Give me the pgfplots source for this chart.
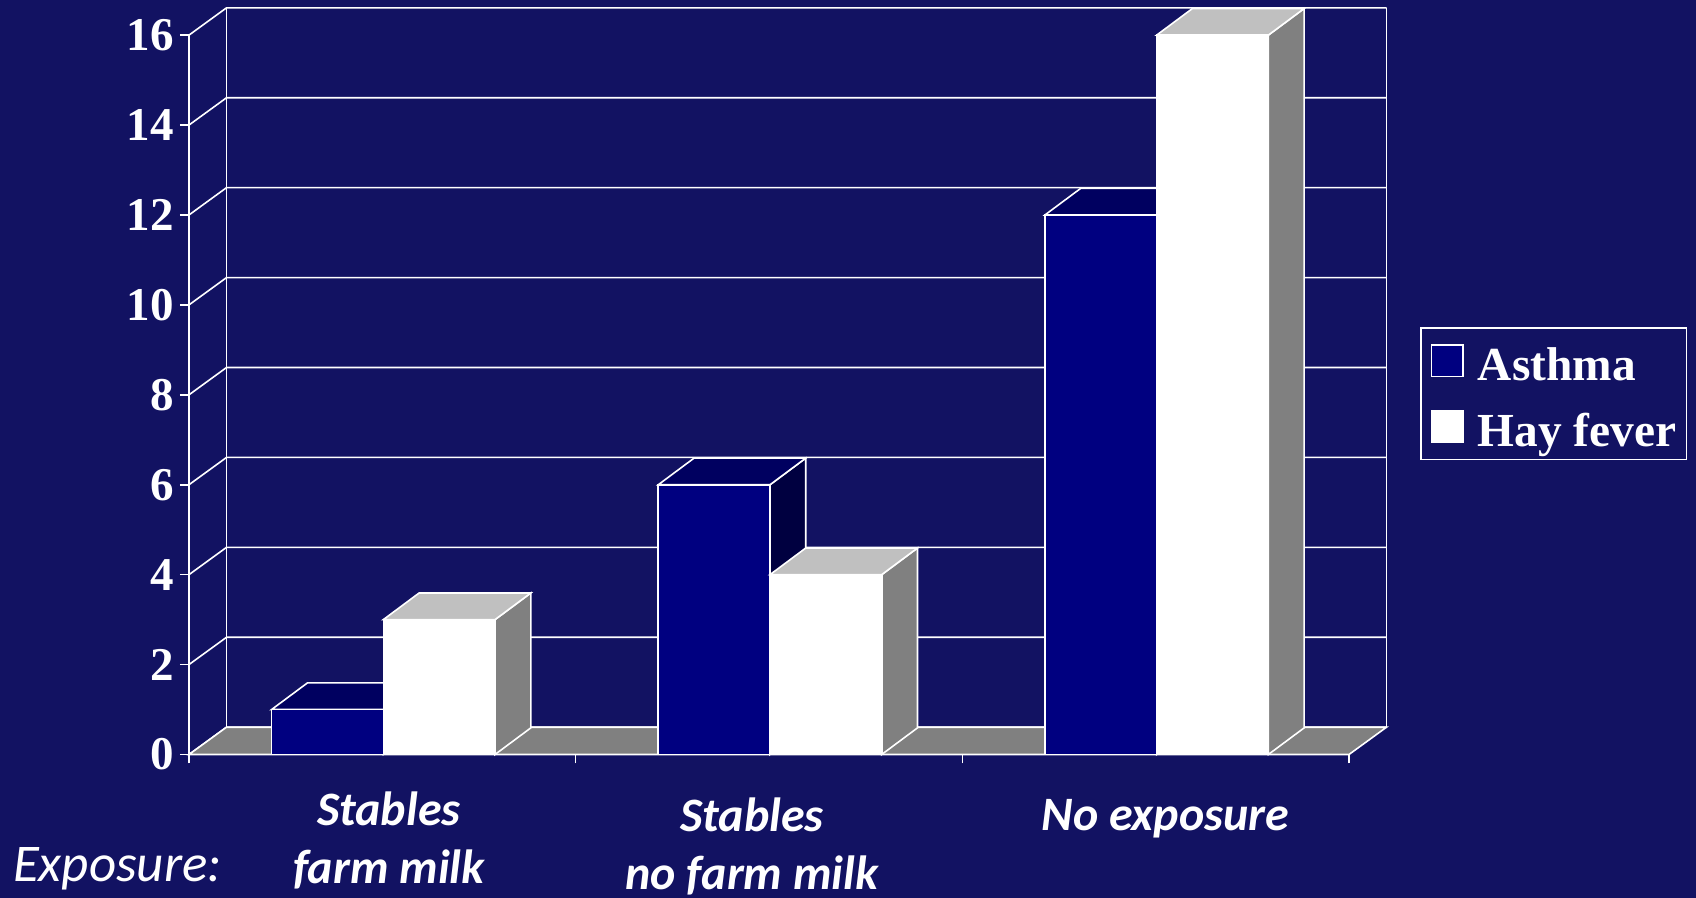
\documentclass[border=0pt]{standalone}
\usepackage{pgfplots}
\usepackage{pgfplotstable}
\pgfplotsset{compat=1.18}
\usepackage{fontspec}
\setmainfont{Liberation Serif}
\newfontfamily\carlito{Carlito}

\definecolor{bgblue}{RGB}{18,18,98}
\definecolor{asthmafront}{RGB}{0,0,128}
\definecolor{asthmatop}{RGB}{0,0,96}
\definecolor{asthmaside}{RGB}{0,0,64}
\definecolor{haytop}{RGB}{192,192,192}
\definecolor{hayside}{RGB}{128,128,128}
\definecolor{floorgray}{RGB}{128,128,128}

% prevalence (%) by exposure group
\pgfplotstableread{
cat asthma hay
0   1      3
1   6      4
2   12     16
}\prevalence

% depth of the bars and of the walls, in axis units
\def\bdx{0.0925}\def\bdy{0.592}
\def\wdx{0.097}\def\wdy{0.607}
\pgfmathsetmacro\wxr{3+\wdx}
\pgfmathsetmacro\wtop{16+\wdy}

% one 3-D bar: left, right, height, front, top and side colours
\newcommand{\cuboid}[6]{%
  \pgfmathsetmacro\cxa{#1}%
  \pgfmathsetmacro\cxb{#2}%
  \pgfmathsetmacro\cxc{#2+\bdx}%
  \pgfmathsetmacro\cxd{#1+\bdx}%
  \pgfmathsetmacro\chh{#3}%
  \pgfmathsetmacro\cht{#3+\bdy}%
  \edef\cuboidcmd{%
    \noexpand\addplot[forget plot, fill=#6, draw=white, line width=0.8pt]
      coordinates {(\cxb,0) (\cxc,\bdy) (\cxc,\cht) (\cxb,\chh)} -- cycle;
    \noexpand\addplot[forget plot, fill=#5, draw=white, line width=0.8pt]
      coordinates {(\cxa,\chh) (\cxb,\chh) (\cxc,\cht) (\cxd,\cht)} -- cycle;
    \noexpand\addplot[forget plot, fill=#4, draw=white, line width=0.8pt]
      coordinates {(\cxa,0) (\cxb,0) (\cxb,\chh) (\cxa,\chh)} -- cycle;
  }%
  \cuboidcmd
}

\begin{document}
\begin{tikzpicture}
\fill[bgblue] (-94.5pt,-71.75pt) rectangle (753.5pt,377.25pt);
\begin{axis}[
  at={(0,0)}, anchor=south west,
  x=193.33pt, y=22.48pt,
  xmin=0, xmax=3.1, ymin=0, ymax=16.7,
  clip=false,
  axis line style={draw=none},
  ytick={0,2,...,16},
  xtick={0,1,2,3}, xticklabels={},
  xtick pos=bottom, ytick pos=left,
  tick align=outside,
  major tick length=4.5pt,
  tick style={white, line width=0.8pt},
  yticklabel style={font=\fontsize{23.5}{28}\selectfont\bfseries, text=white, inner xsep=3pt},
  /pgf/number format/assume math mode=true,
  every axis plot/.append style={mark=none},
  legend image code/.code={\draw[#1, draw=white, line width=0.8pt] (1.5pt,-7.85pt) rectangle (17.2pt,7.85pt);},
  legend cell align=left,
  legend style={at={(1.027,0.5694)}, anchor=north west, draw=white, line width=0.8pt,
    fill=bgblue, text=white, font=\fontsize{23.7}{28}\selectfont\bfseries,
    inner xsep=5pt, inner ysep=6.2pt, row sep=12.5pt, column sep=7pt,
    nodes={inner sep=0pt, text height=20pt, text depth=0.5pt}},
]
% back wall and side wall grid
\pgfplotsinvokeforeach{0,2,...,16}{%
  \pgfmathsetmacro\gy{#1+\wdy}%
  \edef\gridcmd{\noexpand\draw[white, line width=0.8pt]
    (axis cs:0,#1) -- (axis cs:\wdx,\gy) -- (axis cs:\wxr,\gy);}%
  \gridcmd}
\draw[white, line width=0.8pt] (axis cs:\wdx,\wdy) -- (axis cs:\wdx,\wtop);
\draw[white, line width=0.8pt] (axis cs:\wxr,\wdy) -- (axis cs:\wxr,\wtop);
% floor
\addplot[forget plot, fill=floorgray, draw=white, line width=0.8pt]
  coordinates {(0,0) (3,0) (\wxr,\wdy) (\wdx,\wdy)} -- cycle;

% bars
\pgfplotsforeachungrouped \r in {0,1,2}{%
  \pgfplotstablegetelem{\r}{cat}\of\prevalence \let\vc\pgfplotsretval
  \pgfplotstablegetelem{\r}{asthma}\of\prevalence \let\va\pgfplotsretval
  \pgfplotstablegetelem{\r}{hay}\of\prevalence \let\vh\pgfplotsretval
  \cuboid{\vc+0.2137}{\vc+0.5026}{\va}{asthmafront}{asthmatop}{asthmaside}
  \cuboid{\vc+0.5026}{\vc+0.7915}{\vh}{white}{haytop}{hayside}
}

% front edges of the axes
\draw[white, line width=0.8pt] (axis cs:0,16) -- (axis cs:0,0) -- (axis cs:3,0);

\addlegendimage{fill=asthmafront}
\addlegendentry{Asthma}
\addlegendimage{fill=white}
\addlegendentry{Hay fever}

% category labels
\begin{scope}[every node/.style={text=white, align=center,
    font=\fontsize{24}{29}\selectfont\carlito\bfseries\itshape}]
\node at (axis cs:0.517,-1.902) {Stables\\farm milk};
\node at (axis cs:1.456,-2.044) {Stables\\no farm milk};
\node at (axis cs:2.525,-1.43) {No exposure};
\end{scope}
\node[text=white, font=\fontsize{26.5}{29}\selectfont\carlito\itshape]
  at (axis cs:-0.185,-2.547) {Exposure:};
\end{axis}
\pgfresetboundingbox
\useasboundingbox (-94.5pt,-71.75pt) rectangle (753.5pt,377.25pt);
\end{tikzpicture}
\end{document}
